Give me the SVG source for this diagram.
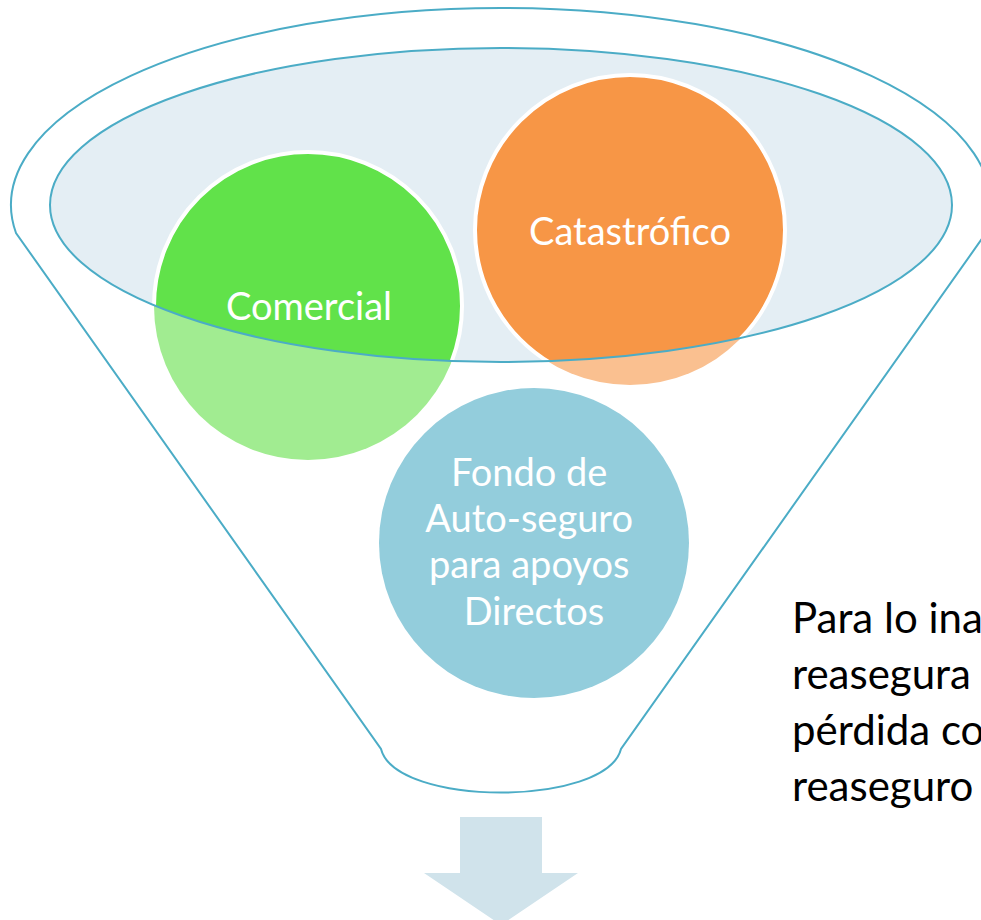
<svg xmlns="http://www.w3.org/2000/svg" width="981" height="920" viewBox="0 0 981 920">
  <style>
    .line { fill: none; stroke: #4bacc6; stroke-width: 2; }
    .ctext { font-family: Lato, "Open Sans", "Liberation Sans", sans-serif; fill: #ffffff; text-anchor: middle; font-size: 38px; }
    .side { font-family: Lato, "Open Sans", "Liberation Sans", sans-serif; fill: #000000; font-size: 42px; }
  </style>
  <defs>
    <clipPath id="topClip">
      <ellipse cx="501" cy="205" rx="451" ry="157"/>
    </clipPath>
  </defs>
  <rect x="0" y="0" width="981" height="920" fill="#ffffff"/>

  <g id="funnel">
    <path class="line" d="M 16 233 A 490 197 0 1 1 986 233 L 621 749 C 606 807 396 807 381 749 Z" fill="#ffffff"/>
    <ellipse cx="501" cy="205" rx="451" ry="157" fill="#e4eef4"/>
  </g>

  <g id="comercial">
    <circle cx="308" cy="306" r="154" fill="#a1ec91"/>
    <circle cx="308" cy="306" r="154" fill="#61e24a" stroke="#ffffff" stroke-width="4" clip-path="url(#topClip)"/>
  </g>

  <g id="catastrofico">
    <circle cx="630" cy="230" r="155" fill="#fac090"/>
    <circle cx="630" cy="230" r="155" fill="#f79646" stroke="#ffffff" stroke-width="4" clip-path="url(#topClip)"/>
  </g>

  <g id="fondo">
    <circle cx="534" cy="543" r="155" fill="#93cddc"/>
  </g>

  <g id="funnel-rim">
    <ellipse class="line" cx="501" cy="205" rx="451" ry="157"/>
  </g>

  <g id="labels">
    <text class="ctext" x="309" y="320">Comercial</text>
    <text class="ctext" x="630" y="245">Catastrófico</text>
    <text class="ctext">
      <tspan x="534" y="486">Fondo de</tspan>
      <tspan x="534" y="532">Auto-seguro</tspan>
      <tspan x="534" y="578">para apoyos</tspan>
      <tspan x="534" y="625">Directos</tspan>
    </text>
  </g>

  <g id="note">
    <text class="side">
      <tspan x="792" y="633">Para lo ina</tspan>
      <tspan x="792" y="689">reasegura</tspan>
      <tspan x="792" y="745">pérdida co</tspan>
      <tspan x="792" y="801">reaseguro</tspan>
    </text>
  </g>

  <g id="connectors">
    <path d="M 460 817 L 542 817 L 542 873 L 578 873 L 501 925 L 424 873 L 460 873 Z" fill="#d0e3eb"/>
  </g>
</svg>
